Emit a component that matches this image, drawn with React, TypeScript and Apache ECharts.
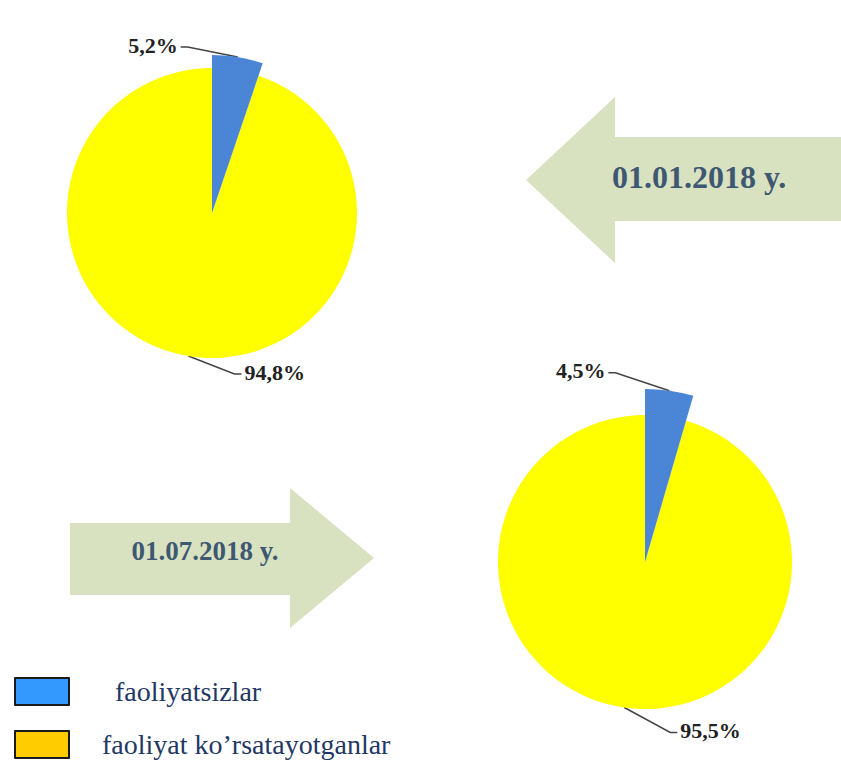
import React, { useEffect, useRef } from "react";
import * as echarts from "echarts";

const categories = ["faoliyatsizlar", "faoliyat ko’rsatayotganlar"];
const dates = ["01.01.2018 y.", "01.07.2018 y."];
const valuesJan = [5.2, 94.8];
const valuesJul = [4.5, 95.5];

const sliceColors = ["#4a85d6", "#ffff00"];
const legendColors = ["#3399ff", "#ffcc00"];
const arrowColor = "#d8e2c1";
const serif = "'Liberation Serif', 'DejaVu Serif', serif";

type Side = "left" | "right";

function makeLayout(dx: number, dy: number, side: Side) {
  return (params: any) => {
    const pts = params.labelLinePoints;
    if (!pts) return {};
    const s = pts[0];
    const x = s[0] + dx;
    const y = s[1] + dy;
    const ex = side === "left" ? x + 3 : x - 3;
    const kx = side === "left" ? ex + 7 : ex - 7;
    return {
      x,
      y,
      align: side === "left" ? "right" : "left",
      verticalAlign: "middle",
      labelLinePoints: [
        [s[0], s[1]],
        [kx, y + 2],
        [ex, y + 2],
      ],
    };
  };
}

function pieSeries(
  values: number[],
  center: [number, number],
  rYellow: number,
  rBlue: number,
  blueLayout: [number, number, Side],
  yellowLayout: [number, number, Side]
) {
  const labelBase = {
    show: true,
    position: "outside",
    fontFamily: serif,
    fontWeight: "bold",
    fontSize: 22,
    color: "#222",
    formatter: (p: any) => String(p.value).replace(".", ",") + "%",
  };
  const lineBase = {
    show: true,
    length: 10,
    length2: 10,
    lineStyle: { color: "#444", width: 1.5 },
  };
  const mk = (showIdx: number, radius: number, layout: [number, number, Side]) => ({
    type: "pie",
    center,
    radius,
    startAngle: 90,
    clockwise: true,
    avoidLabelOverlap: false,
    emphasis: { scale: false },
    label: labelBase,
    labelLine: lineBase,
    labelLayout: makeLayout(layout[0], layout[1], layout[2]),
    data: categories.map((name, i) =>
      i === showIdx
        ? { name, value: values[i], itemStyle: { color: sliceColors[i] } }
        : {
            name,
            value: values[i],
            itemStyle: { color: "rgba(0,0,0,0)" },
            label: { show: false },
            labelLine: { show: false },
          }
    ),
  });
  return [mk(1, rYellow, yellowLayout), mk(0, rBlue, blueLayout)];
}

const legendText = (padLeft: number) => ({
  fontFamily: serif,
  fontSize: 28,
  color: "#1f3864",
  lineHeight: 29,
  padding: [0, 0, 0, padLeft],
});

export default function App() {
  const ref = useRef<HTMLDivElement>(null);
  useEffect(() => {
    document.body.style.margin = "0";
    if (!ref.current) return;
    const chart = echarts.init(ref.current, undefined, { renderer: "svg" });
    chart.setOption({
      animation: false,
      backgroundColor: "#ffffff",
      legend: {
        orient: "vertical",
        left: 14,
        top: 677,
        height: 200,
        padding: 0,
        icon: "rect",
        itemWidth: 54,
        itemHeight: 27,
        itemGap: 24,
        selectedMode: false,
        textStyle: legendText(0),
        data: [
          {
            name: categories[0],
            itemStyle: { color: legendColors[0], borderColor: "#1a1a1a", borderWidth: 2 },
            textStyle: legendText(41),
          },
          {
            name: categories[1],
            itemStyle: { color: legendColors[1], borderColor: "#1a1a1a", borderWidth: 2 },
            textStyle: legendText(28),
          },
        ],
      },
      graphic: [
        {
          type: "polygon",
          silent: true,
          shape: {
            points: [
              [526, 180],
              [615, 97],
              [615, 137],
              [841, 137],
              [841, 221],
              [615, 221],
              [615, 263],
            ],
          },
          style: { fill: arrowColor },
        },
        {
          type: "text",
          silent: true,
          x: 699,
          y: 177,
          style: {
            text: dates[0],
            fill: "#3e5872",
            font: `bold 32px ${serif}`,
            align: "center",
            verticalAlign: "middle",
          },
        },
        {
          type: "polygon",
          silent: true,
          shape: {
            points: [
              [70, 523],
              [290, 523],
              [290, 488],
              [374, 558],
              [290, 628],
              [290, 595],
              [70, 595],
            ],
          },
          style: { fill: arrowColor },
        },
        {
          type: "text",
          silent: true,
          x: 205,
          y: 551,
          style: {
            text: dates[1],
            fill: "#3e5872",
            font: `bold 27px ${serif}`,
            align: "center",
            verticalAlign: "middle",
          },
        },
      ],
      series: [
        ...pieSeries(valuesJan, [212, 213], 145, 158, [-60, -12, "left"], [56, 16, "right"]),
        ...pieSeries(valuesJul, [645, 562], 147, 173, [-64, -20, "left"], [56, 23, "right"]),
      ],
    });
    return () => chart.dispose();
  }, []);
  return <div ref={ref} style={{ width: 841, height: 764 }} />;
}
